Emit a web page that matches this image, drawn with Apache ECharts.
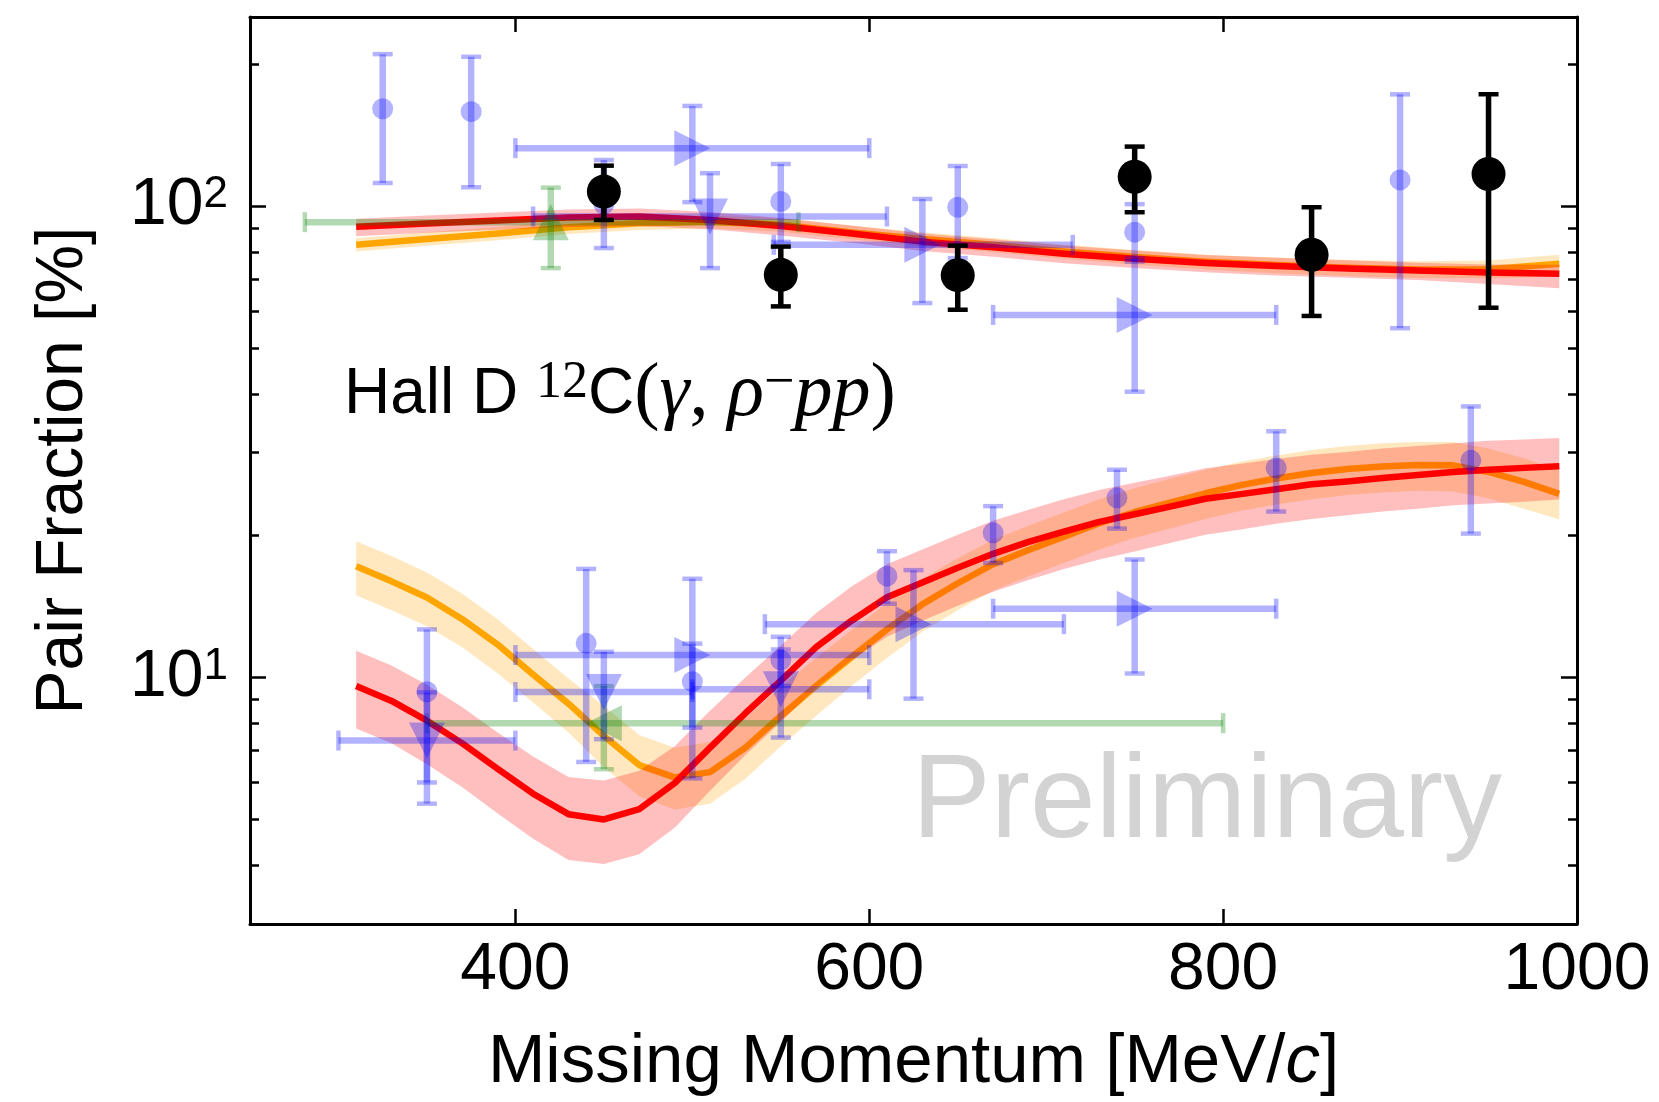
<!DOCTYPE html>
<html><head><meta charset="utf-8">
<script src="https://cdn.jsdelivr.net/npm/echarts@6/dist/echarts.min.js"></script>
<style>html,body{margin:0;padding:0;background:#fff}#c{width:1659px;height:1102px}</style>
</head><body><div id="c"></div>
<script>
// ---------------- tick values ----------------
const xTicks = [400, 600, 800, 1000];
const yMajor = [10, 100];
const yMinor = [3, 4, 5, 6, 7, 8, 9, 20, 30, 40, 50, 60, 70, 80, 90, 200];

// ---------------- model curves: lower group ----------------
const xLow = [310,330,350,370,390,410,430,450,470,490,510,530,550,570,590,610,630,650,670,690,710,730,750,770,790,810,830,850,870,890,910,930,950,970,990];
const redLow   = [9.6,8.92,8.1,7.25,6.4,5.67,5.13,5.0,5.26,5.97,7.1,8.4,9.85,11.6,13.2,14.8,15.9,17.1,18.3,19.4,20.4,21.4,22.2,23.05,23.95,24.5,25.1,25.7,26.05,26.5,26.9,27.3,27.6,27.85,28.07];
const redLowLo = [7.8,7.25,6.55,5.85,5.15,4.55,4.1,4.02,4.22,4.8,5.75,6.85,8.05,9.5,10.9,12.2,13.2,14.2,15.2,16.1,17.0,17.8,18.5,19.3,20.1,20.6,21.2,21.7,22.1,22.5,22.8,23.2,23.4,23.6,23.86];
const redLowHi = [11.4,10.6,9.65,8.65,7.65,6.8,6.15,6.05,6.34,7.15,8.5,10.0,11.7,13.7,15.6,17.4,18.7,20.1,21.5,22.7,23.9,25.0,25.9,26.8,27.8,28.4,29.1,29.7,30.1,30.6,31.0,31.4,31.8,32.0,32.24];
const orangeLow   = [17.23,16.0,14.78,13.3,11.75,10.15,8.8,7.52,6.52,6.14,6.3,7.1,8.29,9.6,11.05,12.65,14.3,15.85,17.4,18.65,19.9,21.25,22.45,23.5,24.6,25.6,26.45,27.15,27.7,28.05,28.25,28.2,27.3,26.0,24.53];
const orangeLowLo = [14.94,13.9,12.85,11.6,10.2,8.85,7.65,6.45,5.6,5.25,5.4,6.1,7.15,8.3,9.6,11.0,12.5,13.9,15.3,16.4,17.5,18.7,19.8,20.7,21.7,22.6,23.3,23.9,24.4,24.7,24.9,24.8,24.0,22.8,21.64];
const orangeLowHi = [19.45,18.1,16.7,15.05,13.3,11.5,9.95,8.7,7.55,7.1,7.3,8.2,9.55,11.0,12.6,14.4,16.2,17.9,19.6,21.0,22.4,23.9,25.2,26.4,27.6,28.7,29.6,30.4,31.0,31.4,31.6,31.6,30.6,29.2,27.5];

// ---------------- model curves: upper group ----------------
const xUp = [310,350,390,430,470,510,550,590,630,670,710,750,790,830,870,910,950,990];
const redUp   = [90.4,91.9,93.3,94.6,95.1,93.5,90.8,87.5,84.1,81.8,79.3,77.4,75.8,74.7,73.8,73.0,72.3,71.9];
const redUpLo = [86.3,87.8,89.1,90.3,90.8,89.3,86.7,83.6,80.3,78.1,75.7,73.9,72.4,71.3,70.5,69.7,68.4,67.0];
const redUpHi = [94.0,95.6,97.0,98.4,98.9,97.2,94.4,91.0,87.5,85.1,82.5,80.5,78.8,77.7,76.8,75.9,75.2,75.1];
const orangeUp   = [82.8,85.2,87.5,90.2,92.0,92.7,91.3,88.0,85.2,82.8,80.2,78.0,76.2,75.0,74.0,73.4,73.5,75.5];
const orangeUpLo = [80.1,82.4,84.7,87.3,89.0,89.7,88.3,85.1,82.3,80.0,77.4,75.2,73.4,72.1,71.1,70.4,70.3,70.9];
const orangeUpHi = [85.5,88.0,90.3,93.1,95.0,95.7,94.3,90.9,88.0,85.6,82.9,80.7,78.9,77.8,76.9,76.4,76.7,78.9];

// ---------------- Hall D data (black) ----------------
const hallDX  = [450, 550, 650, 750, 850, 950];
const hallDY  = [107.4, 71.5, 71.4, 115.5, 78.9, 117.0];
const hallDLo = [93.5, 61.3, 60.3, 97.1, 58.5, 60.9];
const hallDHi = [121.9, 82.1, 82.5, 133.8, 99.5, 172.8];

// ---------------- blue circles ----------------
const blueCircX  = [325, 375, 450, 550, 650, 750, 900, 350, 440, 500, 550, 610, 670, 740, 830, 940];
const blueCircY  = [161, 158.7, 101, 102.3, 99.5, 88.1, 113.7, 9.33, 11.82, 9.8, 10.89, 16.41, 20.28, 24.06, 27.85, 28.9];
const blueCircLo = [112, 109.7, 81.5, 84, 77.6, 76.3, 55.1, 5.99, 6.62, 6.11, 9.6, 14.34, 17.5, 20.7, 22.5, 20.2];
const blueCircHi = [210.2, 207.5, 125.3, 122.9, 121.7, 101, 172.7, 12.65, 17.0, 16.2, 12.2, 18.54, 23.1, 27.6, 33.3, 37.6];

// ---------------- blue down triangles ----------------
const blueDownX   = [510, 350, 450, 550];
const blueDownY   = [95.1, 7.35, 9.32, 9.44];
const blueDownLo  = [73.9, 5.40, 7.40, 7.46];
const blueDownHi  = [117.5, 9.3, 11.34, 11.47];
const blueDownXLo = [410, 300, 400, 500];
const blueDownXHi = [610, 400, 500, 600];

// ---------------- blue right triangles ----------------
const blueRightX   = [500, 630, 750, 500, 625, 750];
const blueRightY   = [132.8, 82.8, 58.8, 11.16, 12.98, 14.0];
const blueRightLo  = [102, 62.3, 40.4, 7.83, 9.02, 10.2];
const blueRightHi  = [163.2, 103.6, 77.5, 11.8, 16.9, 17.8];
const blueRightXLo = [400, 546, 670, 400, 541, 670];
const blueRightXHi = [600, 715, 830, 600, 710, 830];

// ---------------- green triangles ----------------
const greenUpX = [420], greenUpY = [92.5], greenUpLo = [73.9], greenUpHi = [109.5], greenUpXLo = [281], greenUpXHi = [560];
const greenLeftX = [450], greenLeftY = [8.0], greenLeftLo = [6.39], greenLeftHi = [9.59], greenLeftXLo = [350], greenLeftXHi = [800];

// ---------------- styling ----------------
const FONT = 'Liberation Sans';
const SERIF = 'Liberation Serif';
const BLUE = 'rgba(0,0,255,0.3)';
const GREEN = 'rgba(0,128,0,0.3)';
const RED = '#ff0000';
const ORANGE = '#ffa500';
const RED_BAND = 'rgba(255,0,0,0.25)';
const ORANGE_BAND = 'rgba(255,165,0,0.25)';

function pairs(xs, ys) { return xs.map((x, i) => [x, ys[i]]); }
function rowsY(xs, ys, lo, hi) { return xs.map((x, i) => [x, ys[i], lo[i], hi[i]]); }
function rowsXY(xs, ys, lo, hi, xlo, xhi) { return xs.map((x, i) => [x, ys[i], lo[i], hi[i], xlo[i], xhi[i]]); }

function bandSeries(xs, lo, hi, color, z) {
  return {
    type: 'custom', xAxisIndex: 0, yAxisIndex: 0, z: z, silent: true, clip: true,
    data: xs.map((x, i) => [x, lo[i], hi[i]]),
    encode: { x: 0, y: 1 },
    renderItem: function (params, api) {
      if (params.dataIndex !== 0) return null;
      const top = xs.map((x, i) => api.coord([x, hi[i]]));
      const bot = xs.map((x, i) => api.coord([x, lo[i]])).reverse();
      return { type: 'polygon', shape: { points: top.concat(bot) }, style: { fill: color } };
    }
  };
}

function lineSeries(xs, ys, color, z) {
  return {
    type: 'line', xAxisIndex: 0, yAxisIndex: 0, z: z, silent: true,
    data: pairs(xs, ys), symbol: 'none', smooth: false,
    lineStyle: { color: color, width: 6.5, cap: 'butt', join: 'round' }
  };
}

function errSeries(rows, color, lw, capLen, capW, z) {
  return {
    type: 'custom', xAxisIndex: 0, yAxisIndex: 0, z: z, silent: true,
    data: rows, encode: { x: 0, y: 1 },
    renderItem: function (params, api) {
      const x = api.value(0), y = api.value(1), ylo = api.value(2), yhi = api.value(3);
      const a = api.coord([x, ylo]), b = api.coord([x, yhi]);
      const st = { stroke: color, lineWidth: lw, lineCap: 'butt' };
      const cst = { stroke: color, lineWidth: capW, lineCap: 'butt' };
      const ch = [
        { type: 'line', shape: { x1: a[0], y1: a[1], x2: b[0], y2: b[1] }, style: st },
        { type: 'line', shape: { x1: a[0] - capLen / 2, y1: a[1], x2: a[0] + capLen / 2, y2: a[1] }, style: cst },
        { type: 'line', shape: { x1: b[0] - capLen / 2, y1: b[1], x2: b[0] + capLen / 2, y2: b[1] }, style: cst }
      ];
      if (rows[0].length > 4) {
        const xlo = api.value(4), xhi = api.value(5);
        const l = api.coord([xlo, y]), r = api.coord([xhi, y]);
        ch.push({ type: 'line', shape: { x1: l[0], y1: l[1], x2: r[0], y2: r[1] }, style: st });
        ch.push({ type: 'line', shape: { x1: l[0], y1: l[1] - capLen / 2, x2: l[0], y2: l[1] + capLen / 2 }, style: cst });
        ch.push({ type: 'line', shape: { x1: r[0], y1: r[1] - capLen / 2, x2: r[0], y2: r[1] + capLen / 2 }, style: cst });
      }
      return { type: 'group', children: ch };
    }
  };
}

function markerSeries(xs, ys, symbol, size, rotate, color, z) {
  return {
    type: 'scatter', xAxisIndex: 0, yAxisIndex: 0, z: z, silent: true,
    data: pairs(xs, ys), symbol: symbol, symbolSize: size, symbolRotate: rotate,
    itemStyle: { color: color, borderWidth: 0, opacity: 1 }
  };
}

const axisLineStyle = { color: '#000', width: 3 };
const tickStyle = { color: '#000', width: 2.5 };

const yBase = {
  type: 'log', logBase: 10, min: 3, max: 252,
  splitLine: { show: false }, minorTick: { show: false }, minorSplitLine: { show: false }
};

const option = {
  animation: false,
  backgroundColor: '#ffffff',
  grid: { left: 250, right: 82, top: 17, bottom: 178, containLabel: false },
  xAxis: [
    {
      type: 'value', position: 'bottom', min: 250, max: 1000,
      axisLine: { show: true, onZero: false, lineStyle: axisLineStyle },
      axisTick: { show: true, inside: true, length: 15, customValues: xTicks, lineStyle: tickStyle },
      axisLabel: { show: true, customValues: xTicks, margin: 14, color: '#000', fontFamily: FONT, fontSize: 66,
        formatter: function (v) { return String(v); } },
      splitLine: { show: false },
      name: 'Missing Momentum [MeV/{i|c}]', nameLocation: 'middle', nameGap: 104,
      nameTextStyle: { color: '#000', fontFamily: FONT, fontSize: 69,
        rich: { i: { color: '#000', fontFamily: FONT, fontSize: 69, fontStyle: 'italic' } } }
    },
    {
      type: 'value', position: 'top', min: 250, max: 1000,
      axisLine: { show: true, onZero: false, lineStyle: axisLineStyle },
      axisTick: { show: true, inside: true, length: 15, customValues: xTicks, lineStyle: tickStyle },
      axisLabel: { show: false }, splitLine: { show: false }
    }
  ],
  yAxis: [
    Object.assign({}, yBase, {
      position: 'left',
      axisLine: { show: true, onZero: false, lineStyle: axisLineStyle },
      axisTick: { show: true, inside: true, length: 16, customValues: yMajor, lineStyle: tickStyle },
      axisLabel: {
        show: true, customValues: yMajor, margin: 22,
        formatter: function (v) { return '{b|10}{s|' + Math.round(Math.log10(v)) + '}'; },
        rich: {
          b: { fontFamily: FONT, fontSize: 66, color: '#000' },
          s: { fontFamily: FONT, fontSize: 44, lineHeight: 34, verticalAlign: 'top', color: '#000' }
        }
      },
      name: 'Pair Fraction [%]', nameLocation: 'middle', nameGap: 153,
      nameTextStyle: { color: '#000', fontFamily: FONT, fontSize: 66 }
    }),
    Object.assign({}, yBase, {
      position: 'left',
      axisLine: { show: false, onZero: false },
      axisTick: { show: true, inside: true, length: 9, customValues: yMinor, lineStyle: tickStyle },
      axisLabel: { show: false }
    }),
    Object.assign({}, yBase, {
      position: 'right',
      axisLine: { show: true, onZero: false, lineStyle: axisLineStyle },
      axisTick: { show: true, inside: true, length: 16, customValues: yMajor, lineStyle: tickStyle },
      axisLabel: { show: false }
    }),
    Object.assign({}, yBase, {
      position: 'right',
      axisLine: { show: false, onZero: false },
      axisTick: { show: true, inside: true, length: 9, customValues: yMinor, lineStyle: tickStyle },
      axisLabel: { show: false }
    })
  ],
  graphic: [
    {
      type: 'text', x: 344, y: 395, silent: true, z: 100,
      style: {
        text: '{s|Hall D }{sup|12}{s|C}{m|(}{mi|γ}{m|, }{mi|ρ}{msup|−}{mi|pp}{m|)}',
        verticalAlign: 'middle', align: 'left', fill: '#000',
        rich: {
          s: { fontFamily: FONT, fontSize: 64, fill: '#000' },
          sup: { fontFamily: SERIF, fontSize: 52, lineHeight: 26, verticalAlign: 'top', fill: '#000' },
          m: { fontFamily: SERIF, fontSize: 76, fill: '#000' },
          mi: { fontFamily: SERIF, fontSize: 76, fontStyle: 'italic', fill: '#000' },
          msup: { fontFamily: SERIF, fontSize: 54, lineHeight: 25, verticalAlign: 'top', fill: '#000' }
        }
      }
    },
    {
      type: 'text', x: 912, y: 804, silent: true, z: 0,
      style: { text: 'Preliminary', font: '118px "Liberation Sans"', fill: '#d3d3d3', verticalAlign: 'middle', align: 'left' }
    }
  ],
  series: [
    bandSeries(xLow, orangeLowLo, orangeLowHi, ORANGE_BAND, 1),
    bandSeries(xUp, orangeUpLo, orangeUpHi, ORANGE_BAND, 1),
    lineSeries(xLow, orangeLow, ORANGE, 2),
    lineSeries(xUp, orangeUp, ORANGE, 2),
    bandSeries(xLow, redLowLo, redLowHi, RED_BAND, 3),
    bandSeries(xUp, redUpLo, redUpHi, RED_BAND, 3),
    lineSeries(xLow, redLow, RED, 4),
    lineSeries(xUp, redUp, RED, 4),
    errSeries(rowsXY(greenUpX, greenUpY, greenUpLo, greenUpHi, greenUpXLo, greenUpXHi), GREEN, 6.5, 20, 4.5, 5),
    errSeries(rowsXY(greenLeftX, greenLeftY, greenLeftLo, greenLeftHi, greenLeftXLo, greenLeftXHi), GREEN, 6.5, 20, 4.5, 5),
    markerSeries(greenUpX, greenUpY, 'triangle', 36, 0, GREEN, 5),
    markerSeries(greenLeftX, greenLeftY, 'triangle', 36, 90, GREEN, 5),
    errSeries(rowsY(blueCircX, blueCircY, blueCircLo, blueCircHi), BLUE, 6.5, 20, 4.5, 6),
    errSeries(rowsXY(blueDownX, blueDownY, blueDownLo, blueDownHi, blueDownXLo, blueDownXHi), BLUE, 6.5, 20, 4.5, 6),
    errSeries(rowsXY(blueRightX, blueRightY, blueRightLo, blueRightHi, blueRightXLo, blueRightXHi), BLUE, 6.5, 20, 4.5, 6),
    markerSeries(blueCircX, blueCircY, 'circle', 21, 0, BLUE, 6),
    markerSeries(blueDownX, blueDownY, 'triangle', 36, 180, BLUE, 6),
    markerSeries(blueRightX, blueRightY, 'triangle', 36, -90, BLUE, 6),
    errSeries(rowsY(hallDX, hallDY, hallDLo, hallDHi), '#000', 5.5, 20, 4.5, 7),
    markerSeries(hallDX, hallDY, 'circle', 34, 0, '#000', 8)
  ]
};

const chart = echarts.init(document.getElementById('c'), null, { renderer: 'canvas' });
chart.setOption(option);
</script>
</body></html>
